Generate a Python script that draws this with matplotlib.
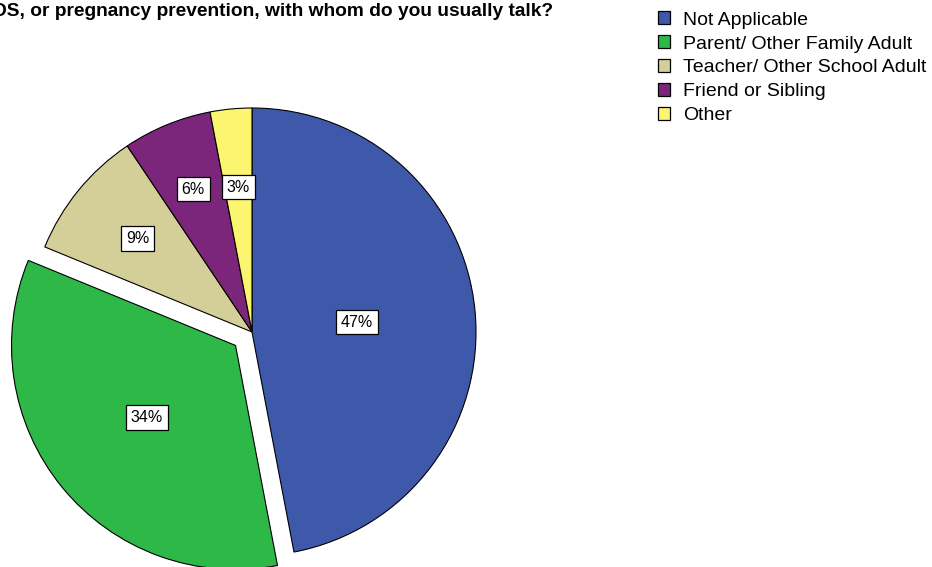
import matplotlib
matplotlib.use("Agg")
import matplotlib.pyplot as plt
import numpy as np
from matplotlib.patches import Patch

plt.rcParams["font.family"] = ["Liberation Sans", "DejaVu Sans"]

# Data
categories = ["Not Applicable", "Parent/ Other Family Adult",
              "Teacher/ Other School Adult", "Friend or Sibling", "Other"]
shares = [47.0, 34.2, 9.4, 6.4, 3.0]
colors = ["#3e58aa", "#2eb848", "#d4cf98", "#7b267b", "#fbf570"]
explode = [0, 0.095, 0, 0, 0]          # fraction of radius
label_dist = [0.47, 0.51, 0.66, 0.69, 0.65]
title = "DS, or pregnancy prevention, with whom do you usually talk?"

W, H = 932, 567
fig = plt.figure(figsize=(W / 100, H / 100), dpi=100)
ax = fig.add_axes([0, 0, 1, 1])

cx, cy, r = 252, H - 332, 224
wedges, _ = ax.pie(shares, colors=colors, explode=[e * r for e in explode],
                   startangle=90, counterclock=False, center=(cx, cy), radius=r,
                   wedgeprops=dict(edgecolor="black", linewidth=0.8),
                   frame=True)
ax.set_xlim(0, W)
ax.set_ylim(0, H)
ax.set_aspect("equal")
ax.axis("off")

for w, v, d, e in zip(wedges, shares, label_dist, explode):
    mid = np.deg2rad((w.theta1 + w.theta2) / 2)
    ox = cx + e * r * np.cos(mid)
    oy = cy + e * r * np.sin(mid)
    ax.text(ox + d * r * np.cos(mid), oy + d * r * np.sin(mid),
            f"{v:.0f}%", ha="center", va="center", fontsize=11.5,
            bbox=dict(boxstyle="square,pad=0.3", facecolor="white",
                      edgecolor="black", linewidth=0.9))

fig.text(-7 / W, 1 - 11 / H, title, ha="left", va="center",
         fontsize=13.8, fontweight="bold")

handles = [Patch(facecolor=c, edgecolor="black", linewidth=0.9) for c in colors]
fig.legend(handles, categories, loc="upper left",
           bbox_to_anchor=(650 / W, 1 - 3.5 / H), frameon=False,
           fontsize=14, handlelength=0.65, handleheight=0.65,
           handletextpad=0.65, labelspacing=0.34, borderaxespad=0)

fig.savefig("out.png", dpi=100)
